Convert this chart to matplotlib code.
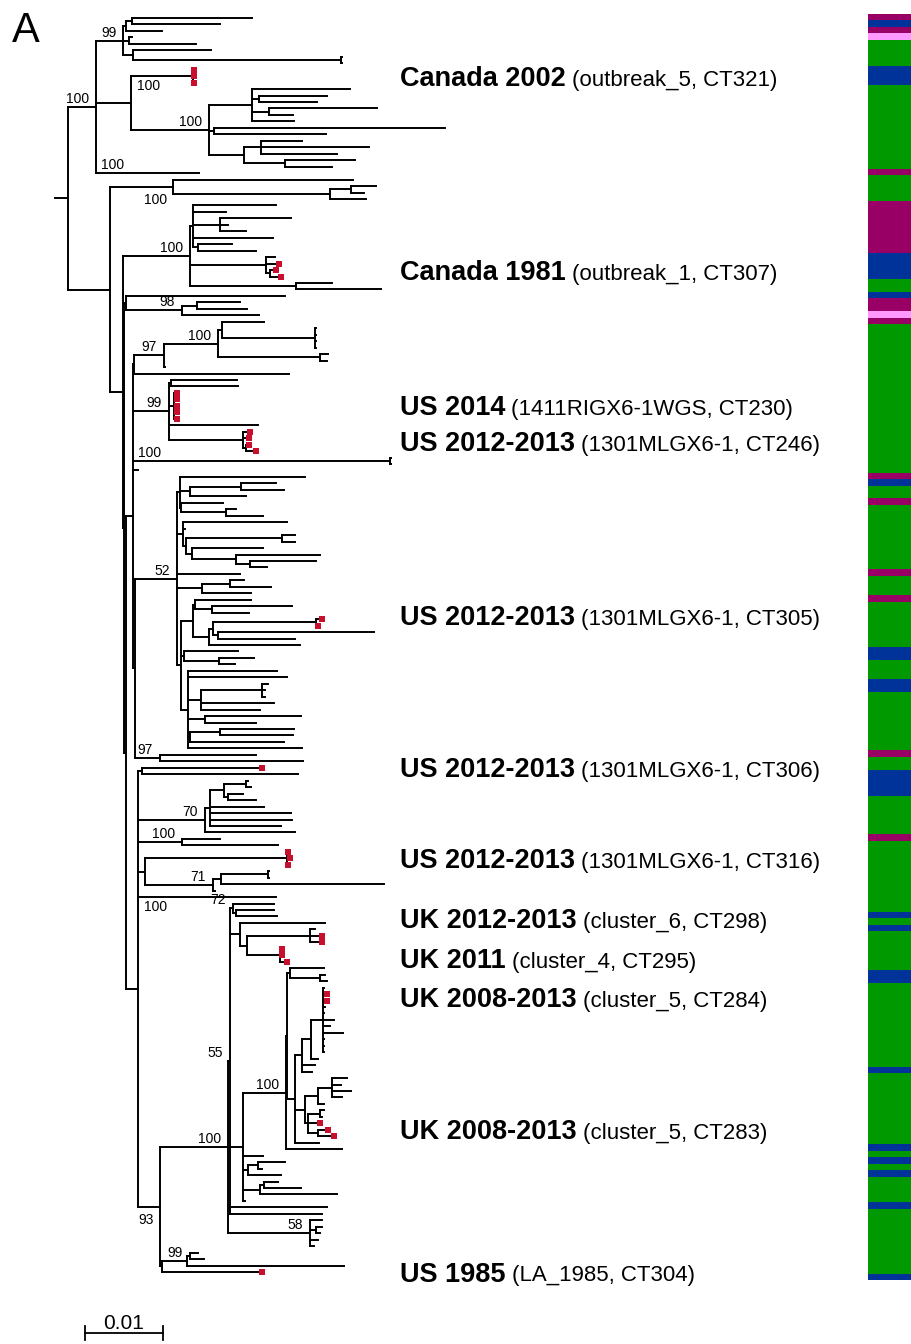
import matplotlib
matplotlib.use("Agg")
import matplotlib.pyplot as plt
from matplotlib.collections import LineCollection

plt.rcParams['font.family'] = ['Liberation Sans', 'DejaVu Sans']

# Branch lengths in the tree strings are given in 1/78 of the 0.01 scale bar.
LEN_UNIT = 0.01 / 78

# Leaves: t = plain tip, rN = highlighted outbreak tip of group N.
# Internal labels = bootstrap value (+ placement: b below, s at branch start, sb both).
CANADA_2002 = ("((((t:120,t:88):6,t:36):3,(t:3,t:67):6,(t:78,(t:1,t:1):208):10)99s:27,"
               "((r1:1,r1:1,r1:1)100sb:62,((t:98,(t:68,t:58):7,(t:108,t:24):17,t:42):43,"
               "(t:231,t:112):5,((t:41,t:108,t:76):17,(t:70,t:47):41):35)100:78):35,t|100s:103)100:28")
CLADE_B1 = "(t:180,((t:25,t:13):21,t:36):157)100b:63"
CANADA_1981 = ("((t:83,t:33,(t:71,t:8,t:26):27,t:80,(t:34,t:58):5):3,"
               "(t:9,r2:13,(r2:6,r2:11):4):76,(t:36,t:85):106)100:67")
CLADE_98 = "(t:159,((t:43,t:50):15,t:77)98:56):2"
CLADE_97 = "((((t:42,(t:1,t:1,t:1,t:1):93):4,(t:8,t:7):102)100:54,t:1)97:30,t:155):1"
US_2014 = "((t:66,t:67):2,(r3:3,r3:3,r3:3,r3:3,r3:3):5,t:89,(r4:7,r4:6,(r4:3,r4:10):3):74)99:36"
LONG_100 = "(t:1,t:1)100s:257"
SHORT_TIP = "t:5"
CLADE_52_TOP = "(t:125,((t:35,t:43):51,t:56):10,(t:42,(t:10,t:37):45):1):3"
CLADE_52_MID = "(t:104,t:2,((t:13,t:13):96,(t:71,(t:84,(t:66,t:17):14):44):6):3):6,t:63,((t:14,t:41):28,t:49):25"
CLADE_52_LOW = ("(((t:56,(t:80,t:37):17):2,(((r5:6,r5:2):103,(t:156,t:77):5):4,t:91):16):12,"
                "(t:54,(t:35,t:16):35):3,"
                "(t:89,t:99,((t:6,t:3,t:3):61,t:73,t:59):13,(t:96,t:51):17,((t:74,t:73):30,t:94):2,t:114):7):4")
CLADE_97B = "(t:96,t:143)97:25"
US_CT306 = "(r6:120,t:156):4"
CLADE_70 = "((((t:2,t:5):22,(t:15,t:28):4):14,t:54,t:81,t:82,t:71):5,t:90)70:67"
PAIR_100 = "(t:38,t:96)100:44"
US_CT316 = "((r7:1,r7:3,r7:1):142,(((t:1,t:1):47,t:163):8,t:2)71:68):7"
TIP_100 = "t|100sb:138"
CLADE_72 = "(t:41,(t:38,t:41):3)72:3"
UK_CT298_CT295 = "(t:85,((t:5,r8:12,r8:12):63,(r9:2,r9:2,r9:7):33):7):10"
UK_TOP = "(t:34,(t:5,t:7):30):3"
UK_CT284 = "(t:1,r10:4,r10:4,t:2,t:1,t:11,t:7,t:20,t:1,t:1,t:1):12"
UK_CT283 = "(((t:15,t:9,t:19,t:10):14,t:6):13,((t:4,t:2):12,r11:12,(r11:10,r11:16):10):3):10"
UK_REST = "t:20,((t:27,t:4):10,t:33):5,((t:14,t:37):4,t:77):17,t:2"
CLADE_58 = "(t:12,(t:6,t:4):6,t:8,t:4)58:82"
US_1985 = "(((t:8,t:14):3,t:157)99s:25,r12:100):2"

OUTBREAK_NAMES = ["Canada 2002", "Canada 1981", "US 2014", "US 2012-2013", "US 2012-2013",
                  "US 2012-2013", "US 2012-2013", "UK 2012-2013", "UK 2011", "UK 2008-2013",
                  "UK 2008-2013", "US 1985"]
OUTBREAK_DETAILS = ["(outbreak_5, CT321)", "(outbreak_1, CT307)", "(1411RIGX6-1WGS, CT230)",
                    "(1301MLGX6-1, CT246)", "(1301MLGX6-1, CT305)", "(1301MLGX6-1, CT306)",
                    "(1301MLGX6-1, CT316)", "(cluster_6, CT298)", "(cluster_4, CT295)",
                    "(cluster_5, CT284)", "(cluster_5, CT283)", "(LA_1985, CT304)"]
OUTBREAK_GROUPS = ["r1", "r2", "r3", "r4", "r5", "r6", "r7", "r8", "r9", "r10", "r11", "r12"]

# origin of each isolate, strip read top to bottom as (category, number of rows)
STRIP_CATS = ["M", "B", "M", "P", "G", "B", "G", "M", "G", "M", "B", "G", "B", "M", "P", "M",
              "G", "M", "B", "G", "M", "G", "M", "G", "M", "G", "B", "G", "B", "G", "M", "G",
              "B", "G", "M", "G", "B", "G", "B", "G", "B", "G", "B", "G", "B", "G", "B", "G",
              "B", "G", "B", "G", "B"]
STRIP_ROWS = [1, 1, 1, 1, 4, 3, 13, 1, 4, 8, 4, 2, 1, 2, 1, 1,
              23, 1, 1, 2, 1, 10, 1, 3, 1, 7, 2, 3, 2, 9, 1, 2,
              4, 6, 1, 11, 1, 1, 1, 6, 2, 13, 1, 11, 1, 1, 1, 1,
              1, 4, 1, 10, 1]
STRIP_COLORS = {"G": "#009900", "B": "#003399", "M": "#990066", "P": "#ff99ff"}

# assemble the tree
clade_52 = "(" + CLADE_52_TOP + "," + CLADE_52_MID + "," + CLADE_52_LOW + ")52:42"
uk_mid = "((" + UK_CT284 + ",t:7):9,t:13,t:10):7"
uk_100 = "((" + UK_TOP + ",(" + uk_mid + "," + UK_CT283 + ",t:24):8):1,t:56)100:43"
clade_55 = "(" + CLADE_72 + "," + UK_CT298_CT295 + ",(" + uk_100 + "," + UK_REST + "):13,t:97,t:92)55:2"
clade_93 = "(((" + "" + clade_55 + "," + CLADE_58 + ")100:68)," + US_1985 + ")93b:22"
clade_93 = "((" + clade_55 + "," + CLADE_58 + ")100:68," + US_1985 + ")93b:22"
clade_d = "(" + ",".join([US_CT306, CLADE_70, PAIR_100, US_CT316, TIP_100, clade_93]) + "):12"
clade_m = "(" + ",".join([CLADE_97, US_2014, LONG_100, SHORT_TIP,
                          "(" + clade_52 + "," + CLADE_97B + "):2"]) + "):7"
clade_b2 = "(" + CANADA_1981 + ",(" + CLADE_98 + ",(" + clade_m + "," + clade_d + "):2):1):13"
TREE = "(" + CANADA_2002 + ",(" + CLADE_B1 + "," + clade_b2 + "):42):13;"


def parse_newick(s):
    pos = 0

    def node():
        nonlocal pos
        n = {"children": [], "name": "", "len": 0.0}
        if s[pos] == "(":
            pos += 1
            n["children"].append(node())
            while s[pos] == ",":
                pos += 1
                n["children"].append(node())
            pos += 1
        start = pos
        while s[pos] not in ":,();":
            pos += 1
        n["name"] = s[start:pos]
        if s[pos] == ":":
            pos += 1
            start = pos
            while s[pos] not in ",();":
                pos += 1
            n["len"] = float(s[start:pos]) * LEN_UNIT
        return n

    return node()


root = parse_newick(TREE)

leaf_count = [0]
hsegs, vsegs = [], []
red_pts = {}
support = []


def layout(n, x_parent):
    n["x"] = x_parent + n["len"]
    if n["children"]:
        for c in n["children"]:
            layout(c, n["x"])
        n["y"] = (n["children"][0]["y"] + n["children"][-1]["y"]) / 2
        vsegs.append([(n["x"], n["children"][0]["y"]), (n["x"], n["children"][-1]["y"])])
        label = n["name"]
    else:
        n["y"] = leaf_count[0]
        leaf_count[0] += 1
        name, _, label = n["name"].partition("|")
        if name.startswith("r"):
            red_pts.setdefault(name, []).append((n["x"], n["y"]))
    hsegs.append([(x_parent, n["y"]), (n["x"], n["y"])])
    if label:
        digits = "".join(ch for ch in label if ch.isdigit())
        mode = label[len(digits):]
        support.append((digits, mode, x_parent, n["x"], n["y"]))


layout(root, 0.0)

# figure / coordinate set-up
W, H = 912, 1344
X0_PX = 55
TOP_PX, BOT_PX = 18, 1272
PX = 0.01 / 78
ROW = (BOT_PX - TOP_PX) / (leaf_count[0] - 1)

fig = plt.figure(figsize=(W / 100, H / 100), dpi=100)
ax = fig.add_axes([0, 0, 1, 1])
ax.set_xlim(-X0_PX * PX, (W - X0_PX) * PX)
ax.set_ylim((H - TOP_PX) / ROW, -TOP_PX / ROW)
ax.axis("off")

lc = LineCollection(hsegs + vsegs, colors="black", linewidths=1.4, capstyle="projecting")
ax.add_collection(lc)

for pts in red_pts.values():
    ax.plot([p[0] for p in pts], [p[1] for p in pts], "s", color="#c8102e",
            ms=4.6, mew=0, zorder=3)

for val, mode, xp, xn, y in support:
    if mode == "":
        ax.annotate(val, (xn, y), xytext=(-7, 1), textcoords="offset pixels",
                    ha="right", va="bottom", fontsize=10)
    elif mode == "b":
        ax.annotate(val, (xn, y), xytext=(-6, -6), textcoords="offset pixels",
                    ha="right", va="top", fontsize=10)
    elif mode == "s":
        ax.annotate(val, (xp, y), xytext=(5, 1), textcoords="offset pixels",
                    ha="left", va="bottom", fontsize=10)
    else:
        ax.annotate(val, (xp, y), xytext=(6, -3), textcoords="offset pixels",
                    ha="left", va="top", fontsize=10)

# outbreak labels
LABEL_X_PX = 400
LABEL_SHIFT = {4: -1.0, 7: -3.2, 8: 0.5}
fig.canvas.draw()
renderer = fig.canvas.get_renderer()
for i, (name, detail, grp) in enumerate(zip(OUTBREAK_NAMES, OUTBREAK_DETAILS, OUTBREAK_GROUPS)):
    ys = [p[1] for p in red_pts[grp]]
    y = sum(ys) / len(ys) + LABEL_SHIFT.get(i, 0)
    xy = ((LABEL_X_PX - X0_PX) * PX, y)
    t = ax.annotate(name, xy, xytext=(0, -9.5), textcoords="offset pixels",
                    ha="left", va="baseline", fontsize=19.5, fontweight="bold")
    wpx = t.get_window_extent(renderer).width
    ax.annotate(detail, xy, xytext=(wpx + 6, -9.5), textcoords="offset pixels",
                ha="left", va="baseline", fontsize=16)

# scale bar
sb_x = (85 - X0_PX) * PX
sb_y = (1333 - TOP_PX) / ROW
tick = 7 / ROW
ax.plot([sb_x, sb_x + 0.01], [sb_y, sb_y], color="black", lw=1.3)
ax.plot([sb_x, sb_x], [sb_y - tick, sb_y + tick], color="black", lw=1.3)
ax.plot([sb_x + 0.01, sb_x + 0.01], [sb_y - tick, sb_y + tick], color="black", lw=1.3)
ax.annotate("0.01", (sb_x + 0.005, sb_y), xytext=(0, 4), textcoords="offset pixels",
            ha="center", va="baseline", fontsize=15)

fig.text(12 / W, 1 - 42 / H, "A", fontsize=30, ha="left", va="baseline")

# colour strip
sax = fig.add_axes([868 / W, (H - 1280) / H, 43 / W, 1266 / H])
start = 0
for cat, n in zip(STRIP_CATS, STRIP_ROWS):
    sax.barh(start, 1, height=n, align="edge", color=STRIP_COLORS[cat], linewidth=0)
    start += n
sax.set_ylim(start, 0)
sax.set_xlim(0, 1)
sax.axis("off")

fig.savefig("out.png", dpi=100)
